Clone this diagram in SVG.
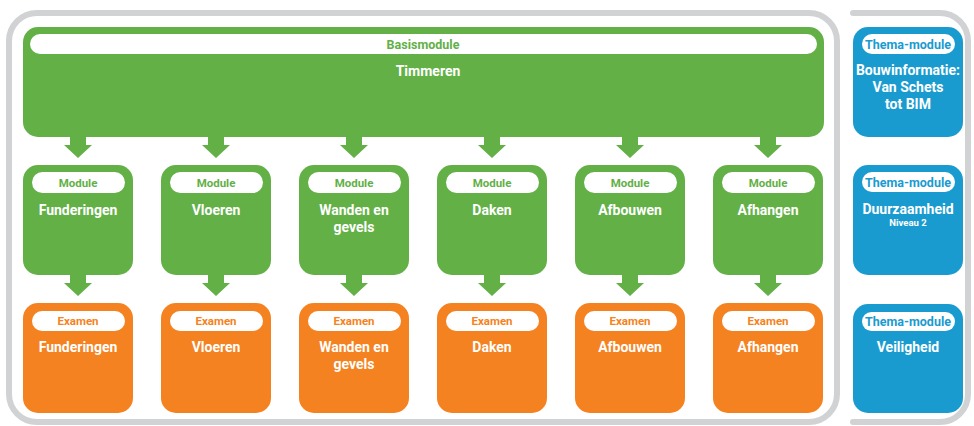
<svg xmlns="http://www.w3.org/2000/svg" width="974" height="426" viewBox="0 0 974 426">
<defs>
<style>
.frame{fill:none;stroke:#D1D2D4;stroke-width:6;stroke-linecap:round}
.g{fill:#62B046}
.o{fill:#F58220}
.b{fill:#1A9BCF}
.pill{fill:#fff}
text{font-family:Roboto,"Open Sans","Liberation Sans",sans-serif;font-weight:700;text-anchor:middle;dominant-baseline:central}
.tg{fill:#62B046;font-size:11.5px}
.to{fill:#F58220;font-size:11.5px}
.tb{fill:#1A9BCF;font-size:12.5px}
.tw{fill:#fff;font-size:14px}
.ts{fill:#fff;font-size:9.5px}
</style>
<path id="arr" d="M-8 0 H8 V8 H14 L0 21 L-14 8 H-8 Z"/>
</defs>
<rect id="frame-left" class="frame" x="9" y="13" width="828" height="409" rx="28"/>
<path id="frame-right" class="frame" d="M853 13 H940 A28 28 0 0 1 968 41 V394 A28 28 0 0 1 940 422 H853"/>

<g id="connectors" class="g">
<use href="#arr" x="78" y="137"/><use href="#arr" x="216" y="137"/><use href="#arr" x="354" y="137"/>
<use href="#arr" x="492" y="137"/><use href="#arr" x="630" y="137"/><use href="#arr" x="768" y="137"/>
<use href="#arr" x="78" y="275"/><use href="#arr" x="216" y="275"/><use href="#arr" x="354" y="275"/>
<use href="#arr" x="492" y="275"/><use href="#arr" x="630" y="275"/><use href="#arr" x="768" y="275"/>
</g>

<g id="basismodule">
<rect class="g" x="23" y="27" width="801" height="110" rx="15"/>
<rect class="pill" x="30" y="34" width="787" height="20" rx="10"/>
<text class="tg" x="423" y="44" style="font-size:12.5px">Basismodule</text>
<text class="tw" x="428" y="71">Timmeren</text>
</g>

<g id="module-funderingen"><rect class="g" x="23" y="165" width="110" height="110" rx="15"/><rect class="pill" x="32" y="172" width="93" height="21" rx="10.5"/><text class="tg" x="78" y="182.5">Module</text><text class="tw" x="78" y="210">Funderingen</text></g>
<g id="module-vloeren"><rect class="g" x="161" y="165" width="110" height="110" rx="15"/><rect class="pill" x="170" y="172" width="93" height="21" rx="10.5"/><text class="tg" x="216" y="182.5">Module</text><text class="tw" x="216" y="210">Vloeren</text></g>
<g id="module-wanden"><rect class="g" x="299" y="165" width="110" height="110" rx="15"/><rect class="pill" x="308" y="172" width="93" height="21" rx="10.5"/><text class="tg" x="354" y="182.5">Module</text><text class="tw" x="354" y="210">Wanden en</text><text class="tw" x="354" y="227">gevels</text></g>
<g id="module-daken"><rect class="g" x="437" y="165" width="110" height="110" rx="15"/><rect class="pill" x="446" y="172" width="93" height="21" rx="10.5"/><text class="tg" x="492" y="182.5">Module</text><text class="tw" x="492" y="210">Daken</text></g>
<g id="module-afbouwen"><rect class="g" x="575" y="165" width="110" height="110" rx="15"/><rect class="pill" x="584" y="172" width="93" height="21" rx="10.5"/><text class="tg" x="630" y="182.5">Module</text><text class="tw" x="630" y="210">Afbouwen</text></g>
<g id="module-afhangen"><rect class="g" x="713" y="165" width="110" height="110" rx="15"/><rect class="pill" x="722" y="172" width="93" height="21" rx="10.5"/><text class="tg" x="768" y="182.5">Module</text><text class="tw" x="768" y="210">Afhangen</text></g>

<g id="examen-funderingen"><rect class="o" x="23" y="303" width="110" height="110" rx="15"/><rect class="pill" x="32" y="311" width="93" height="20" rx="10"/><text class="to" x="78" y="321">Examen</text><text class="tw" x="78" y="347">Funderingen</text></g>
<g id="examen-vloeren"><rect class="o" x="161" y="303" width="110" height="110" rx="15"/><rect class="pill" x="170" y="311" width="93" height="20" rx="10"/><text class="to" x="216" y="321">Examen</text><text class="tw" x="216" y="347">Vloeren</text></g>
<g id="examen-wanden"><rect class="o" x="299" y="303" width="110" height="110" rx="15"/><rect class="pill" x="308" y="311" width="93" height="20" rx="10"/><text class="to" x="354" y="321">Examen</text><text class="tw" x="354" y="347">Wanden en</text><text class="tw" x="354" y="364">gevels</text></g>
<g id="examen-daken"><rect class="o" x="437" y="303" width="110" height="110" rx="15"/><rect class="pill" x="446" y="311" width="93" height="20" rx="10"/><text class="to" x="492" y="321">Examen</text><text class="tw" x="492" y="347">Daken</text></g>
<g id="examen-afbouwen"><rect class="o" x="575" y="303" width="110" height="110" rx="15"/><rect class="pill" x="584" y="311" width="93" height="20" rx="10"/><text class="to" x="630" y="321">Examen</text><text class="tw" x="630" y="347">Afbouwen</text></g>
<g id="examen-afhangen"><rect class="o" x="713" y="303" width="110" height="110" rx="15"/><rect class="pill" x="722" y="311" width="93" height="20" rx="10"/><text class="to" x="768" y="321">Examen</text><text class="tw" x="768" y="347">Afhangen</text></g>

<g id="thema-bouwinformatie"><rect class="b" x="853" y="27" width="110" height="110" rx="15"/><rect class="pill" x="862" y="34" width="93" height="20" rx="10"/><text class="tb" x="908" y="44">Thema-module</text><text class="tw" x="908" y="70">Bouwinformatie:</text><text class="tw" x="908" y="87">Van Schets</text><text class="tw" x="908" y="104">tot BIM</text></g>
<g id="thema-duurzaamheid"><rect class="b" x="853" y="165" width="110" height="110" rx="15"/><rect class="pill" x="862" y="172" width="93" height="20" rx="10"/><text class="tb" x="908" y="182">Thema-module</text><text class="tw" x="908" y="209">Duurzaamheid</text><text class="ts" x="908" y="222">Niveau 2</text></g>
<g id="thema-veiligheid"><rect class="b" x="853" y="304" width="110" height="109" rx="15"/><rect class="pill" x="862" y="312" width="93" height="19" rx="9.5"/><text class="tb" x="908" y="321.5">Thema-module</text><text class="tw" x="908" y="347">Veiligheid</text></g>
</svg>
